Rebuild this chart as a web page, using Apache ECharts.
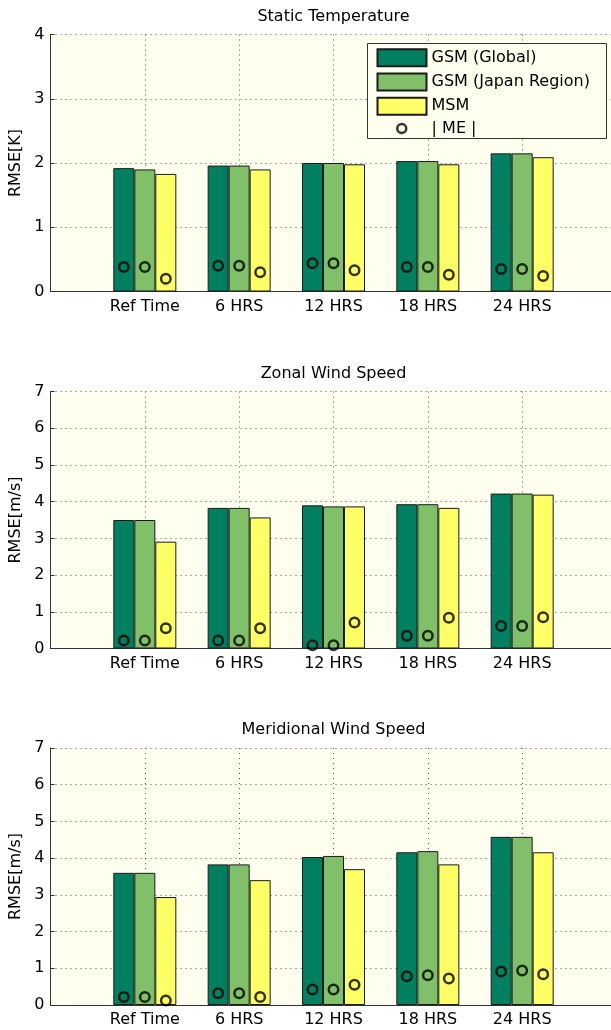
<!DOCTYPE html>
<html><head><meta charset="utf-8">
<script src="https://cdn.jsdelivr.net/npm/echarts@6/dist/echarts.min.js"></script>
<style>html,body{margin:0;padding:0;background:#fff}#c{width:611px;height:1030px}</style>
</head><body><div id="c"></div><script>
// ---- data ----
const categories = ['Ref Time', '6 HRS', '12 HRS', '18 HRS', '24 HRS'];
const seriesNames = ['GSM (Global)', 'GSM (Japan Region)', 'MSM'];
const meName = '| ME |';

const tempRmseGlobal = [1.92, 1.96, 2.00, 2.03, 2.15];
const tempRmseJapan  = [1.90, 1.96, 2.00, 2.03, 2.15];
const tempRmseMsm    = [1.83, 1.90, 1.98, 1.98, 2.09];
const tempMeGlobal   = [0.38, 0.40, 0.44, 0.38, 0.35];
const tempMeJapan    = [0.38, 0.40, 0.44, 0.38, 0.35];
const tempMeMsm      = [0.20, 0.30, 0.33, 0.26, 0.24];

const zonalRmseGlobal = [3.50, 3.83, 3.90, 3.93, 4.22];
const zonalRmseJapan  = [3.50, 3.83, 3.87, 3.93, 4.22];
const zonalRmseMsm    = [2.91, 3.57, 3.87, 3.83, 4.19];
const zonalMeGlobal   = [0.22, 0.22, 0.09, 0.35, 0.61];
const zonalMeJapan    = [0.22, 0.22, 0.09, 0.35, 0.61];
const zonalMeMsm      = [0.55, 0.55, 0.71, 0.84, 0.85];

const meridRmseGlobal = [3.60, 3.83, 4.03, 4.16, 4.58];
const meridRmseJapan  = [3.60, 3.83, 4.06, 4.19, 4.58];
const meridRmseMsm    = [2.94, 3.40, 3.70, 3.83, 4.16];
const meridMeGlobal   = [0.22, 0.32, 0.42, 0.78, 0.91];
const meridMeJapan    = [0.22, 0.32, 0.42, 0.81, 0.94];
const meridMeMsm      = [0.12, 0.22, 0.55, 0.72, 0.84];

const tempYMax = 4;
const windYMax = 7;

// ---- styling ----
const FONT = 'DejaVu Sans';
const colors = ['#008060', '#80c068', '#ffff66'];
const markerOffsets = [-21, 0, 21];
const gridTops = [34.5, 391.5, 748];
const GRID_LEFT = 50.5, GRID_W = 566, GRID_H = 257;

const panels = [
  { title: 'Static Temperature', yName: 'RMSE[K]', yMax: tempYMax,
    rmse: [tempRmseGlobal, tempRmseJapan, tempRmseMsm], me: [tempMeGlobal, tempMeJapan, tempMeMsm] },
  { title: 'Zonal Wind Speed', yName: 'RMSE[m/s]', yMax: windYMax,
    rmse: [zonalRmseGlobal, zonalRmseJapan, zonalRmseMsm], me: [zonalMeGlobal, zonalMeJapan, zonalMeMsm] },
  { title: 'Meridional Wind Speed', yName: 'RMSE[m/s]', yMax: windYMax,
    rmse: [meridRmseGlobal, meridRmseJapan, meridRmseMsm], me: [meridMeGlobal, meridMeJapan, meridMeMsm] }
];

const padCats = [''].concat(categories, ['']);
const pad = arr => [null].concat(arr, [null]);

const dotted = { color: '#555', width: 1, type: [1, 4] };

const option = {
  animation: false,
  backgroundColor: '#ffffff',
  title: panels.map((p, i) => ({
    text: p.title, left: GRID_LEFT + GRID_W / 2, top: gridTops[i] - 26, textAlign: 'center', padding: 0,
    textStyle: { fontSize: 16, fontWeight: 'normal', color: '#000', fontFamily: FONT }
  })),
  grid: panels.map((p, i) => ({
    left: GRID_LEFT, top: gridTops[i], width: GRID_W, height: GRID_H,
    outerBoundsMode: 'none', containLabel: false,
    show: true, backgroundColor: '#fffff0', borderWidth: 0
  })),
  xAxis: panels.map((p, i) => ({
    type: 'category', gridIndex: i, data: padCats, boundaryGap: false,
    axisLine: { show: true, lineStyle: { color: '#333', width: 1 } },
    axisTick: { show: false },
    axisLabel: { interval: 0, fontSize: 16, color: '#000', fontFamily: FONT, margin: 7 },
    splitLine: { show: true, interval: 0, lineStyle: dotted }
  })),
  yAxis: panels.map((p, i) => ({
    type: 'value', gridIndex: i, min: 0, max: p.yMax, interval: 1,
    name: p.yName, nameLocation: 'middle', nameGap: 22,
    nameTextStyle: { fontSize: 16, color: '#000', fontFamily: FONT },
    axisLine: { show: true, lineStyle: { color: '#333', width: 1 } },
    axisTick: { show: true, inside: true, length: 4, lineStyle: { color: '#333' } },
    axisLabel: { fontSize: 16, color: '#000', fontFamily: FONT, margin: 6 },
    splitLine: { show: true, lineStyle: dotted }
  })),
  legend: [
    { data: seriesNames, orient: 'vertical', left: 376.5, top: 48.3, padding: 0,
      itemWidth: 49, itemHeight: 17, itemGap: 5.2, icon: 'rect', selectedMode: false,
      textStyle: { fontSize: 16, color: '#000', fontFamily: FONT, lineHeight: 17 } },
    { data: [meName], orient: 'vertical', left: 396, top: 120.5, padding: 0,
      itemWidth: 9, itemHeight: 9, icon: 'circle', selectedMode: false,
      formatter: name => '    ' + name,
      itemStyle: { color: 'rgba(0,0,0,0)', borderColor: '#000', borderWidth: 2.5 },
      textStyle: { fontSize: 16, color: '#000', fontFamily: FONT } }
  ],
  graphic: [{
    type: 'rect', z: 3,
    shape: { x: 367.5, y: 43.5, width: 239, height: 95 },
    style: { fill: '#fffff0', stroke: '#333', lineWidth: 1 }
  }],
  series: []
};

panels.forEach((p, i) => {
  for (let j = 0; j < 3; j++) {
    option.series.push({
      type: 'bar', name: seriesNames[j], xAxisIndex: i, yAxisIndex: i,
      data: pad(p.rmse[j]), barWidth: 21, barGap: '0%',
      itemStyle: { color: colors[j], borderColor: '#1a1a1a', borderWidth: 1 }
    });
  }
  for (let j = 0; j < 3; j++) {
    option.series.push({
      type: 'scatter', name: meName, xAxisIndex: i, yAxisIndex: i,
      data: pad(p.me[j]), symbol: 'circle', symbolSize: 9.5,
      symbolOffset: [markerOffsets[j], 0], z: 3,
      itemStyle: { color: 'rgba(0,0,0,0)', borderColor: '#000', borderWidth: 2.5 }
    });
  }
});

const chart = echarts.init(document.getElementById('c'), null, { renderer: 'canvas' });
chart.setOption(option);
</script></body></html>
